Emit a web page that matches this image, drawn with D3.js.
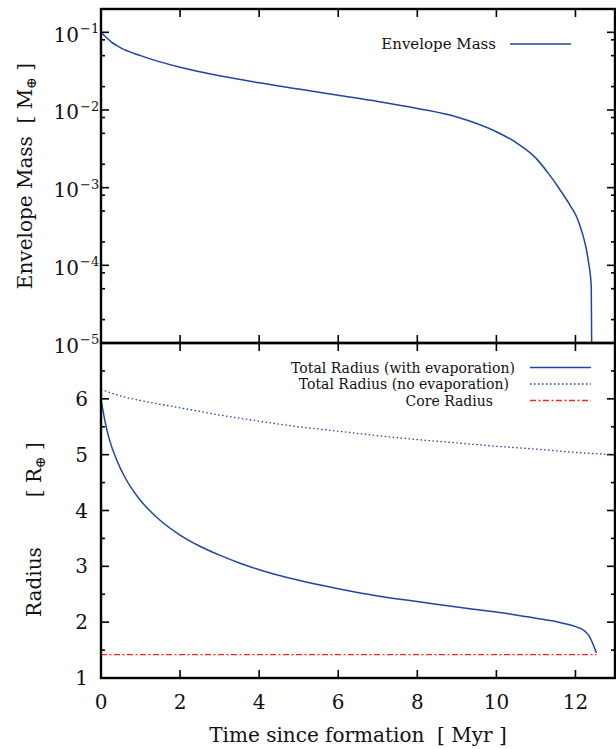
<!DOCTYPE html>
<html><head><meta charset="utf-8">
<script src="https://cdn.jsdelivr.net/npm/d3@7"></script>
<style>
html,body{margin:0;padding:0;background:#fff;}
svg text{font-family:"DejaVu Serif","Liberation Serif",serif;fill:#111;}
</style></head>
<body><svg id="c" width="616" height="749" font-family="DejaVu Serif, Liberation Serif, serif"></svg>
<script>
// ---- data ----
const envTime = [0,0.25,0.5,1,2,3,4,5,6,7,8,9,10,10.5,11,11.32,11.6,11.88,12.05,12.17,12.27,12.33,12.40,12.41];
const envMassLog = [-1,-1.12,-1.2,-1.3,-1.45,-1.56,-1.65,-1.73,-1.81,-1.89,-1.98,-2.09,-2.28,-2.42,-2.62,-2.82,-3.02,-3.24,-3.40,-3.58,-3.78,-3.96,-4.28,-5];
const radTime = [0,0.1,0.2,0.4,0.6,0.8,1,1.5,2,2.5,3,3.5,4,5,6,7,8,9,10,10.5,11,11.5,12,12.2,12.34,12.53];
const radEvap = [6.0,5.6,5.3,4.9,4.6,4.37,4.18,3.82,3.56,3.36,3.2,3.06,2.94,2.75,2.6,2.47,2.37,2.27,2.18,2.13,2.07,2.01,1.92,1.86,1.76,1.45];
const noEvapTime = [0,0.5,1,2,3,4,5,6,7,8,9,10,11,12,13];
const radNoEvap = [6.17,6.05,5.97,5.84,5.71,5.6,5.5,5.42,5.34,5.27,5.21,5.15,5.1,5.04,5.0];
const coreTime = [0,12.53];
const coreRadius = [1.42,1.42];
const xTicks = [0,2,4,6,8,10,12];
const massTickExp = [-1,-2,-3,-4,-5];
const radiusTicks = [1,2,3,4,5,6];

// ---- layout ----
const svg = d3.select("#c");
const L = 101, R = 615, T1 = 9, B1 = 343, T2 = 343, B2 = 678;
const blue = "#1f44a6", red = "#ff2020";

const x = d3.scaleLinear().domain([0,13]).range([L,R]);
const yM = d3.scaleLog().domain([1e-5, Math.pow(10,-0.7)]).range([B1,T1]);
const yR = d3.scaleLinear().domain([1,7]).range([B2,T2]);

const defs = svg.append("defs");
defs.append("clipPath").attr("id","cp1").append("rect").attr("x",L).attr("y",T1).attr("width",R-L).attr("height",B1-T1);
defs.append("clipPath").attr("id","cp2").append("rect").attr("x",L).attr("y",T2).attr("width",R-L).attr("height",B2-T2);

// ---- ticks (inward, mirrored) ----
const tk = svg.append("g").attr("stroke","#000").attr("stroke-width",1.6);
function hTicks(y0, dir, vals, len){ vals.forEach(v=>{ tk.append("line").attr("x1",x(v)).attr("x2",x(v)).attr("y1",y0).attr("y2",y0+dir*len); }); }
hTicks(T1, 1, xTicks, 8); hTicks(B1, -1, xTicks, 8);
hTicks(T2, 1, xTicks, 8); hTicks(B2, -1, xTicks, 8);
function vTicks(yf, vals, len){ vals.forEach(v=>{ const yy=yf(v);
  tk.append("line").attr("x1",L).attr("x2",L+len).attr("y1",yy).attr("y2",yy);
  tk.append("line").attr("x1",R).attr("x2",R-len).attr("y1",yy).attr("y2",yy); }); }
vTicks(yM, massTickExp.map(e=>Math.pow(10,e)), 8);
const minorM = [];
massTickExp.slice(1).forEach(e=>[2,5,8].forEach(m=>minorM.push(m*Math.pow(10,e))));
vTicks(yM, minorM, 4);
vTicks(yR, radiusTicks, 8);
vTicks(yR, [1.5,2.5,3.5,4.5,5.5,6.5], 4);

// ---- lines ----
const lineM = d3.line().x((d,i)=>x(envTime[i])).y(d=>yM(Math.pow(10,d))).curve(d3.curveMonotoneX);
svg.append("path").attr("clip-path","url(#cp1)").attr("d",lineM(envMassLog)).attr("fill","none").attr("stroke",blue).attr("stroke-width",1.5);

const lineR = (tt)=>d3.line().x((d,i)=>x(tt[i])).y(d=>yR(d)).curve(d3.curveMonotoneX);
svg.append("path").attr("clip-path","url(#cp2)").attr("d",lineR(coreTime)(coreRadius)).attr("fill","none").attr("stroke",red).attr("stroke-width",1.3).attr("stroke-dasharray","6,2.5,2,2.5");
svg.append("path").attr("clip-path","url(#cp2)").attr("d",lineR(noEvapTime)(radNoEvap)).attr("fill","none").attr("stroke",blue).attr("stroke-width",1.3).attr("stroke-dasharray","1.5,2.5");
svg.append("path").attr("clip-path","url(#cp2)").attr("d",lineR(radTime)(radEvap)).attr("fill","none").attr("stroke",blue).attr("stroke-width",1.5);

// ---- frames ----
svg.append("rect").attr("x",L).attr("y",T1).attr("width",R-L).attr("height",B1-T1).attr("fill","none").attr("stroke","#000").attr("stroke-width",2.4);
svg.append("rect").attr("x",L).attr("y",T2).attr("width",R-L).attr("height",B2-T2).attr("fill","none").attr("stroke","#000").attr("stroke-width",2.4);

// ---- tick labels ----
const lab = svg.append("g").attr("font-size",20);
massTickExp.forEach(e=>{
  const yy = yM(Math.pow(10,e));
  lab.append("text").attr("x",79).attr("y",yy+9.5).attr("text-anchor","end").text("10");
  lab.append("text").attr("x",80).attr("y",yy+1).attr("font-size",13).text("\u2212" + Math.abs(e));
});
radiusTicks.forEach(v=>{
  lab.append("text").attr("x",88).attr("y",yR(v)+7).attr("text-anchor","end").text(v);
});
xTicks.forEach(v=>{
  lab.append("text").attr("x",x(v)).attr("y",709).attr("text-anchor","middle").text(v);
});

// ---- axis titles ----
svg.append("text").attr("x",358).attr("y",742).attr("text-anchor","middle").attr("font-size",20)
  .attr("xml:space","preserve").text("Time since formation  [ Myr ]");
const t1 = svg.append("text").attr("transform","translate(32,176) rotate(-90)").attr("text-anchor","middle").attr("font-size",20).attr("xml:space","preserve");
t1.append("tspan").text("Envelope Mass  [ M");
t1.append("tspan").attr("font-size",14).attr("dy",4).text("\u2295");
t1.append("tspan").attr("dy",-4).text(" ]");
const t2 = svg.append("text").attr("transform","translate(41,617) rotate(-90)").attr("text-anchor","start").attr("font-size",20).attr("xml:space","preserve");
t2.append("tspan").text("Radius");
t2.append("tspan").attr("dx",50).text("[ R");
t2.append("tspan").attr("font-size",14).attr("dy",4).text("\u2295");
t2.append("tspan").attr("dy",-4).text(" ]");

// ---- legends ----
const lg = svg.append("g").attr("font-size",14).attr("xml:space","preserve");
lg.append("text").attr("x",496).attr("y",49).attr("text-anchor","end").attr("font-size",15).text("Envelope Mass");
lg.append("line").attr("x1",510).attr("x2",571).attr("y1",44).attr("y2",44).attr("stroke",blue).attr("stroke-width",1.5);
const rows = [
  {t:"Total Radius (with evaporation)", xe:515, y:367.5, dash:null, c:blue},
  {t:"Total Radius  (no evaporation)", xe:509, y:384, dash:"1.5,2.5", c:blue},
  {t:"Core  Radius", xe:493, y:400.5, dash:"6,2.5,2,2.5", c:red}
];
rows.forEach(r=>{
  lg.append("text").attr("x",r.xe).attr("y",r.y+5).attr("text-anchor","end").text(r.t);
  const ln = lg.append("line").attr("x1",530).attr("x2",591).attr("y1",r.y).attr("y2",r.y).attr("stroke",r.c).attr("stroke-width",r.dash?1.3:1.5);
  if(r.dash) ln.attr("stroke-dasharray",r.dash);
});
</script></body></html>
